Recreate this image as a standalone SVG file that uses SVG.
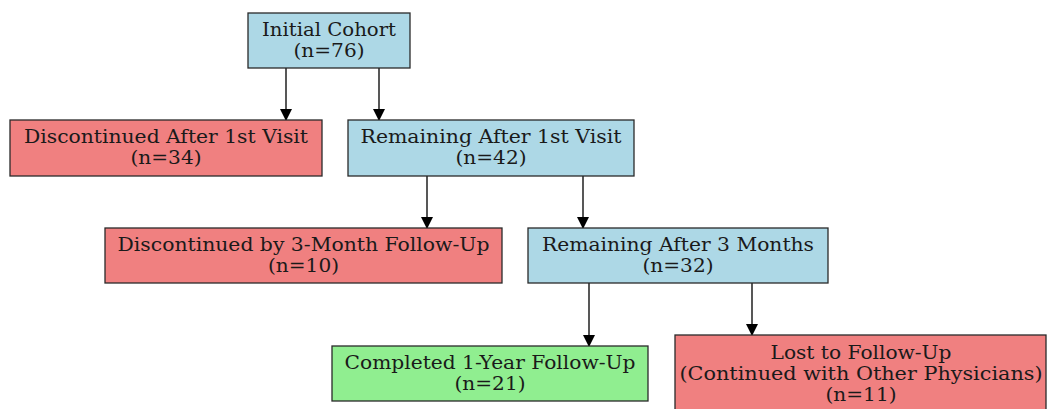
<svg xmlns="http://www.w3.org/2000/svg" width="1047" height="409" viewBox="0 0 1047 409">
<style>
.n rect{stroke:#2a2a2a;stroke-width:1.3}
.blue rect{fill:#ADD8E6}
.red rect{fill:#F08080}
.green rect{fill:#90EE90}
text{font-family:"DejaVu Serif",serif;font-size:18px;fill:#1a1a1a;text-anchor:middle}
.e line{stroke:#111;stroke-width:1.4;marker-end:url(#ah)}
</style>
<defs>
<marker id="ah" markerWidth="11" markerHeight="13" refX="11" refY="6" orient="auto" markerUnits="userSpaceOnUse">
<path d="M0,0 L12,6 L0,12 Z" fill="#000"/>
</marker>
</defs>
<rect width="1047" height="409" fill="#fff"/>
<g class="e">
<line x1="286" y1="68" x2="286" y2="120"/>
<line x1="379" y1="68" x2="379" y2="120"/>
<line x1="427" y1="176" x2="427" y2="228"/>
<line x1="583" y1="176" x2="583" y2="228"/>
<line x1="589" y1="283" x2="589" y2="346"/>
<line x1="752" y1="283" x2="752" y2="335"/>
</g>
<g id="initial" class="n blue"><rect x="248" y="13" width="162" height="55"/><text x="329" y="36" textLength="134" lengthAdjust="spacingAndGlyphs">Initial Cohort</text><text x="329" y="57" textLength="71" lengthAdjust="spacingAndGlyphs">(n=76)</text></g>
<g id="disc1" class="n red"><rect x="10" y="120" width="312" height="56"/><text x="166" y="143" textLength="284" lengthAdjust="spacingAndGlyphs">Discontinued After 1st Visit</text><text x="166" y="164" textLength="71" lengthAdjust="spacingAndGlyphs">(n=34)</text></g>
<g id="rem1" class="n blue"><rect x="348" y="120" width="286" height="56"/><text x="491" y="143" textLength="261" lengthAdjust="spacingAndGlyphs">Remaining After 1st Visit</text><text x="491" y="164" textLength="71" lengthAdjust="spacingAndGlyphs">(n=42)</text></g>
<g id="disc3" class="n red"><rect x="105" y="228" width="397" height="55"/><text x="303.5" y="251" textLength="372" lengthAdjust="spacingAndGlyphs">Discontinued by 3-Month Follow-Up</text><text x="303.5" y="272" textLength="71" lengthAdjust="spacingAndGlyphs">(n=10)</text></g>
<g id="rem3" class="n blue"><rect x="528" y="228" width="300" height="55"/><text x="678" y="251" textLength="272" lengthAdjust="spacingAndGlyphs">Remaining After 3 Months</text><text x="678" y="272" textLength="71" lengthAdjust="spacingAndGlyphs">(n=32)</text></g>
<g id="comp" class="n green"><rect x="332" y="346" width="316" height="55"/><text x="490" y="369" textLength="291" lengthAdjust="spacingAndGlyphs">Completed 1-Year Follow-Up</text><text x="490" y="390" textLength="71" lengthAdjust="spacingAndGlyphs">(n=21)</text></g>
<g id="lost" class="n red"><rect x="675" y="335" width="371" height="80"/><text x="861" y="359" textLength="181" lengthAdjust="spacingAndGlyphs">Lost to Follow-Up</text><text x="861" y="380" textLength="363" lengthAdjust="spacingAndGlyphs">(Continued with Other Physicians)</text><text x="861" y="401" textLength="71" lengthAdjust="spacingAndGlyphs">(n=11)</text></g>
</svg>
